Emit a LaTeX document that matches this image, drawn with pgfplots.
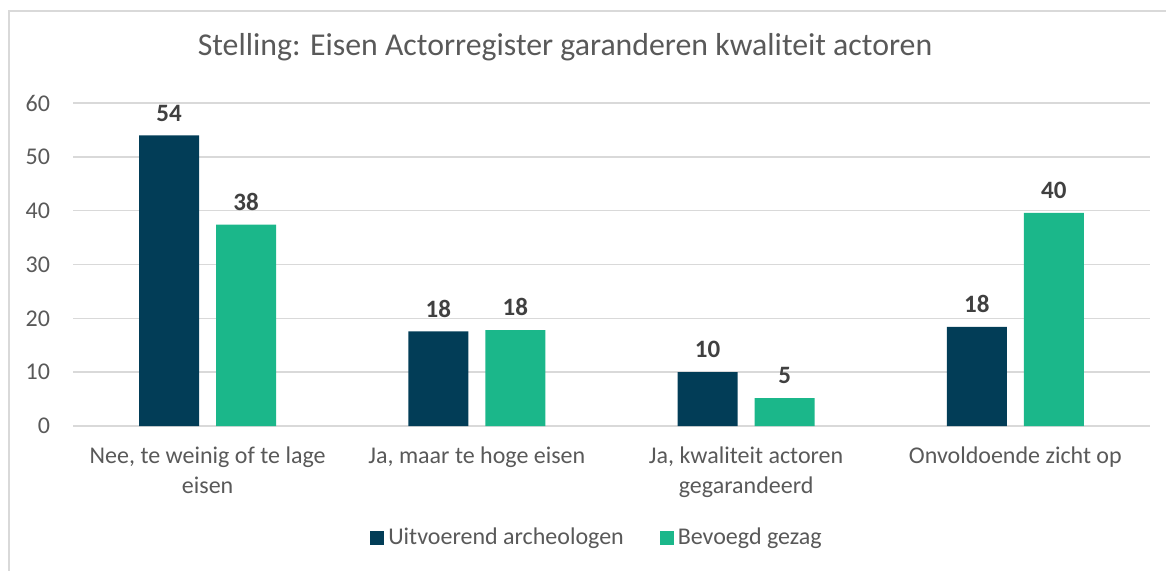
\documentclass[border=0pt]{standalone}
\usepackage{fontspec}
\setmainfont{Carlito}
\usepackage{pgfplots}
\pgfplotsset{compat=1.18}
\definecolor{navy}{RGB}{2,61,87}
\definecolor{mint}{RGB}{27,183,138}
\definecolor{txt}{RGB}{89,89,89}
\definecolor{lbl}{RGB}{64,64,64}
\definecolor{grd}{RGB}{217,217,217}
\begin{document}
\begin{tikzpicture}
\path[use as bounding box] (-36.5pt,-72pt) rectangle (546.5pt,213pt);
\begin{axis}[
  scale only axis, width=538.5pt, height=161.5pt,
  ybar=8.5pt, bar width=30pt,
  xmin=-0.5, xmax=3.5, ymin=0, ymax=60,
  ytick={0,10,...,60},
  xtick=data,
  xticklabels={{Nee, te weinig of te lage\\eisen},{Ja, maar te hoge eisen},{Ja, kwaliteit actoren\\gegarandeerd},{Onvoldoende zicht op}},
  xticklabel style={align=center, font=\fontsize{12}{15}\selectfont, text=txt, yshift=-7pt},
  yticklabel style={font=\fontsize{12}{14}\selectfont, text=txt, xshift=-8pt},
  /pgf/number format/assume math mode=true,
  axis x line*=bottom, axis y line*=left,
  x axis line style={grd, line width=0.8pt},
  y axis line style={draw=none},
  major tick length=0pt,
  ymajorgrids, grid style={grd, line width=0.8pt},
  point meta=explicit symbolic,
  nodes near coords,
  nodes near coords style={font=\fontsize{12.5}{14}\selectfont\bfseries, text=lbl, yshift=3.5pt},
  legend columns=2,
  legend style={draw=none, at={(262.5pt,-56pt)}, anchor=center, font=\fontsize{12}{14}\selectfont, text=txt,
    /tikz/every even column/.append style={column sep=16pt}},
  legend image code/.code={\fill[#1] (0pt,-3.5pt) rectangle (7pt,3.5pt);},
]
\addplot[fill=navy, draw=none] coordinates {(0,54) [54] (1,17.6) [18] (2,10.0) [10] (3,18.4) [18]};
\addlegendentry{Uitvoerend archeologen}
\addplot[fill=mint, draw=none] coordinates {(0,37.4) [38] (1,17.8) [18] (2,5.2) [5] (3,39.6) [40]};
\addlegendentry{Bevoegd gezag}
\end{axis}
\draw[grd, line width=0.8pt] (-32pt,-100pt) -- (-32pt,207.5pt) -- (600pt,207.5pt);
\node[font=\fontsize{15.9}{18}\selectfont, text=txt] at (246pt,189.5pt) {Stelling: Eisen Actorregister garanderen kwaliteit actoren};
\end{tikzpicture}
\end{document}
